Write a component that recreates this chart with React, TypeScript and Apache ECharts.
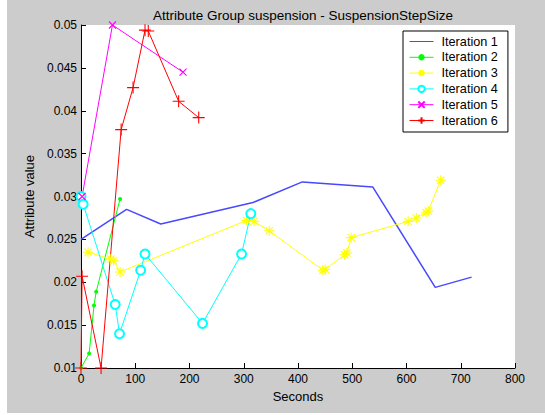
import React, { useEffect, useRef } from "react";
import * as echarts from "echarts";

const titleText = "Attribute Group suspension - SuspensionStepSize";
const xName = "Seconds";
const yName = "Attribute value";
const seriesNames = ["Iteration 1", "Iteration 2", "Iteration 3", "Iteration 4", "Iteration 5", "Iteration 6"];

const iter1X = [0, 84, 147, 317, 408, 538, 653, 720];
const iter1Y = [0.025, 0.0285, 0.0268, 0.0293, 0.0317, 0.0311, 0.0194, 0.0206];

const iter2X = [0, 15, 24, 28, 72];
const iter2Y = [0.01, 0.0117, 0.0173, 0.0189, 0.0297];

const iter3X = [13, 55, 60, 72, 305, 319, 347, 446, 450, 486, 490, 498, 603, 618, 636, 640, 663];
const iter3Y = [0.0235, 0.0227, 0.0225, 0.0212, 0.0272, 0.0271, 0.026, 0.0214, 0.0215, 0.0232, 0.0234, 0.0252, 0.0271, 0.0275, 0.0281, 0.0283, 0.0319];

const iter4X = [0, 4, 63, 71, 110, 118, 224, 296, 313];
const iter4Y = [0.03, 0.0291, 0.0174, 0.014, 0.0214, 0.0233, 0.0152, 0.0233, 0.028];

const iter5X = [2, 58, 188];
const iter5Y = [0.03, 0.05, 0.0445];

const iter6X = [0, 2, 37, 74, 96, 118, 124, 180, 217];
const iter6Y = [0.01, 0.0207, 0.01, 0.0378, 0.0427, 0.0494, 0.0493, 0.0411, 0.0392];

const xTicks = { min: 0, max: 800, interval: 100 };
const yTicks = { min: 0.01, max: 0.05, interval: 0.005 };

const zip = (xs: number[], ys: number[]) => xs.map((x, i) => [x, ys[i]]);

const PLUS = "path://M0,-5L0,5M-5,0L5,0";
const CROSS = "path://M-5,-5L5,5M-5,5L5,-5";
const STAR = "path://M0,-5L0,5M-5,0L5,0M-3.6,-3.6L3.6,3.6M-3.6,3.6L3.6,-3.6";

export default function App() {
  const ref = useRef<HTMLDivElement>(null);
  useEffect(() => {
    if (!ref.current) return;
    const chart = echarts.init(ref.current, undefined, { renderer: "svg" });
    const font = "Liberation Sans, Arial, sans-serif";
    const mk = (
      name: string,
      data: number[][],
      color: string,
      symbol: string,
      size: number,
      stroke: boolean,
      width = 1
    ) => ({
      name,
      type: "line",
      data,
      symbol,
      symbolSize: size,
      showSymbol: symbol !== "none",
      color,
      lineStyle: { color, width },
      itemStyle: stroke
        ? { color: "rgba(0,0,0,0)", borderColor: color, borderWidth: 1.1 }
        : { color, borderColor: color, borderWidth: symbol === "emptyCircle" ? 1 : 0 },
      emphasis: { disabled: true },
      z: 2,
    });
    const legendData = seriesNames.map((n, i) =>
      i === 0
        ? { name: n, itemStyle: { color: "rgba(0,0,0,0)", borderColor: "rgba(0,0,0,0)", borderWidth: 0 } }
        : { name: n }
    );
    chart.setOption({
      animation: false,
      backgroundColor: "#cccccc",
      textStyle: { fontFamily: font },
      title: {
        text: titleText,
        left: 291,
        textAlign: "center",
        top: 3,
        textStyle: { fontSize: 13.5, fontWeight: "normal", color: "#000", fontFamily: font },
      },
      legend: {
        orient: "vertical",
        left: 396,
        top: 31,
        padding: [4, 10, 5, 6],
        itemWidth: 24,
        itemHeight: 8,
        itemGap: 2.8,
        backgroundColor: "#fff",
        borderColor: "#000",
        borderWidth: 1,
        lineStyle: { width: 1 },
        textStyle: { fontSize: 12.7, lineHeight: 12, color: "#000", fontFamily: font, padding: [0, 0, 0, 3] },
        data: legendData,
      },
      grid: {
        left: 74,
        right: 30,
        top: 25,
        bottom: 45,
        show: true,
        backgroundColor: "#ffffff",
        borderWidth: 0,
      },
      xAxis: {
        type: "value",
        min: xTicks.min,
        max: xTicks.max,
        interval: xTicks.interval,
        name: xName,
        nameLocation: "middle",
        nameGap: 22,
        nameTextStyle: { fontSize: 13, color: "#000", fontFamily: font },
        axisLine: { show: true, onZero: false, lineStyle: { color: "#000", width: 1 } },
        axisTick: { show: true, inside: true, length: 5, lineStyle: { color: "#000" } },
        axisLabel: { fontSize: 12, color: "#000", margin: 5, fontFamily: font },
        splitLine: { show: false },
      },
      yAxis: {
        type: "value",
        min: yTicks.min,
        max: yTicks.max,
        interval: yTicks.interval,
        name: yName,
        nameLocation: "middle",
        nameGap: 44,
        nameRotate: 90,
        nameTextStyle: { fontSize: 13, color: "#000", fontFamily: font },
        axisLine: { show: true, onZero: false, lineStyle: { color: "#000", width: 1 } },
        axisTick: { show: true, inside: true, length: 5, lineStyle: { color: "#000" } },
        axisLabel: {
          fontSize: 12,
          color: "#000",
          margin: 4,
          fontFamily: font,
          formatter: (v: number) => String(parseFloat(v.toFixed(4))),
        },
        splitLine: { show: false },
      },
      series: [
        mk(seriesNames[0], zip(iter1X, iter1Y), "#4848ff", "none", 0, false, 1.5),
        mk(seriesNames[1], zip(iter2X, iter2Y), "#00ff00", "circle", 4, false),
        mk(seriesNames[2], zip(iter3X, iter3Y), "#ffff00", STAR, 10, true),
        mk(seriesNames[3], zip(iter4X, iter4Y), "#00ffff", "emptyCircle", 9, false),
        mk(seriesNames[4], zip(iter5X, iter5Y), "#ff00ff", CROSS, 7, true),
        mk(seriesNames[5], zip(iter6X, iter6Y), "#ff0000", PLUS, 12, true),
      ],
    });
    return () => chart.dispose();
  }, []);
  return (
    <div style={{ position: "absolute", left: 0, top: 0, width: 545, height: 415, background: "#fff" }}>
      <div ref={ref} style={{ position: "absolute", left: 7, top: 0, width: 538, height: 413 }} />
    </div>
  );
}
